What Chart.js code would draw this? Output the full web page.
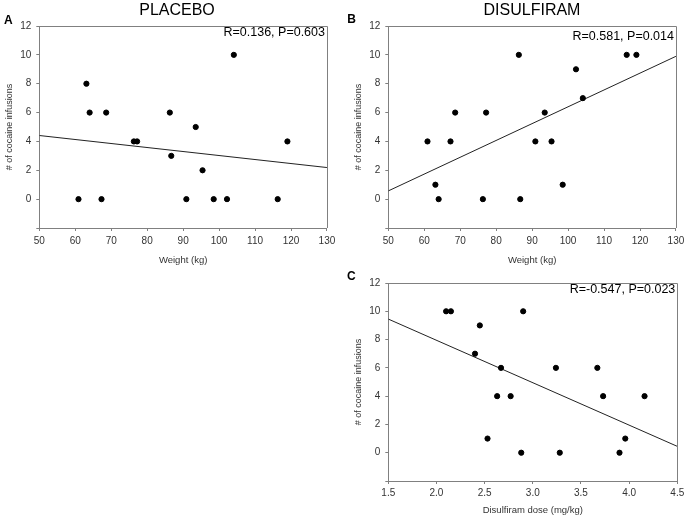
<!DOCTYPE html>
<html>
<head>
<meta charset="utf-8">
<script src="https://cdn.jsdelivr.net/npm/chart.js@4.4.0/dist/chart.umd.min.js"></script>
<style>
body { margin: 0; background: #fff; }
#wrap { position: relative; width: 689px; height: 520px; }
canvas { position: absolute; }
</style>
</head>
<body>
<div id="wrap">
  <canvas id="chartA" width="340" height="272" style="left:0;top:0"></canvas>
  <canvas id="chartB" width="346" height="272" style="left:343px;top:0"></canvas>
  <canvas id="chartC" width="346" height="263" style="left:343px;top:257px"></canvas>
</div>
<script>
// body weight (kg), same subjects in both arms
const weights = [60.9, 63.1, 64.0, 67.3, 68.6, 76.3, 77.2, 86.3, 86.7, 90.9, 93.5, 95.4, 98.5, 102.2, 104.1, 116.3, 119.0];
const placeboInfusions = [0, 8, 6, 0, 6, 4, 4, 6, 3, 0, 5, 2, 0, 0, 10, 0, 4];
const disulfiramInfusions = [4, 1, 0, 4, 6, 0, 6, 10, 0, 4, 6, 4, 1, 9, 7, 10, 10];

// disulfiram dose (mg/kg)
const doses = [2.10, 2.15, 2.40, 2.45, 2.53, 2.63, 2.67, 2.77, 2.88, 2.90, 3.24, 3.28, 3.67, 3.73, 3.90, 3.96, 4.16];
const doseInfusions = [10, 10, 7, 9, 1, 4, 6, 4, 0, 10, 6, 0, 6, 4, 0, 1, 4];

// regression lines (values at both ends of the x axis)
const weightEnds = [50, 130];
const placeboFit = [4.41, 2.19];
const disulfiramFit = [0.57, 9.9];
const doseEnds = [1.5, 4.5];
const doseFit = [9.45, 0.45];

const yTicks = [-2, 12, 2];   // min, max, step
const statsText = ['R=0.136, P=0.603', 'R=0.581, P=0.014', 'R=-0.547, P=0.023'];
const panelTitles = ['PLACEBO', 'DISULFIRAM', ''];
const panelLetters = ['A', 'B', 'C'];

const axisGray = '#808080';
const tickFont = { family: 'Liberation Sans', size: 10 };

function toPoints(xs, ys) {
    return xs.map((x, i) => ({ x: x, y: ys[i] }));
}

// frame on top/right + letter, title, R/P text
const panelDeco = {
    id: 'panelDeco',
    afterDraw(chart, args, o) {
        const ctx = chart.ctx;
        const a = chart.chartArea;
        ctx.save();
        ctx.strokeStyle = axisGray;
        ctx.lineWidth = 1;
        ctx.beginPath();
        ctx.moveTo(Math.round(a.left), Math.round(a.top) + 0.5);
        ctx.lineTo(Math.round(a.right) + 0.5, Math.round(a.top) + 0.5);
        ctx.lineTo(Math.round(a.right) + 0.5, Math.round(a.bottom));
        ctx.stroke();

        ctx.fillStyle = '#000';
        ctx.textBaseline = 'middle';
        ctx.textAlign = 'left';
        ctx.font = 'bold 12px "Liberation Sans"';
        ctx.fillText(o.letter, o.letterX, o.letterY);

        if (o.title) {
            ctx.textAlign = 'center';
            ctx.font = '16px "Liberation Sans"';
            ctx.fillText(o.title, o.titleX, 11);
        }

        ctx.textAlign = 'right';
        ctx.font = '12.5px "Liberation Sans"';
        ctx.fillText(o.stats, a.right - 2, o.statsY);
        ctx.restore();
    }
};

function makePanel(id, p) {
    const ctx = document.getElementById(id).getContext('2d');
    return new Chart(ctx, {
        type: 'scatter',
        data: {
            datasets: [{
                data: toPoints(p.xs, p.ys),
                backgroundColor: '#000',
                borderColor: '#000',
                pointRadius: 2.6,
                pointHoverRadius: 2.6
            }, {
                data: toPoints(p.ends, p.fit),
                showLine: true,
                borderColor: '#222',
                borderWidth: 1,
                pointRadius: 0
            }]
        },
        options: {
            responsive: false,
            animation: false,
            layout: { padding: { top: 26, right: 11.7, left: 0, bottom: 0 } },
            plugins: {
                legend: { display: false },
                tooltip: { enabled: false },
                panelDeco: p.deco
            },
            scales: {
                x: {
                    type: 'linear',
                    min: p.ends[0],
                    max: p.ends[1],
                    afterFit: s => { s.height = p.axisH; },
                    ticks: {
                        stepSize: p.xStep,
                        padding: p.xTickPad,
                        color: '#333',
                        font: tickFont,
                        callback: v => p.xFmt(v)
                    },
                    grid: { display: true, drawOnChartArea: false, drawTicks: true, tickLength: 3, color: axisGray },
                    border: { display: true, color: axisGray },
                    title: {
                        display: true,
                        text: p.xTitle,
                        color: '#333',
                        font: { family: 'Liberation Sans', size: 9.5 },
                        padding: { top: 0, bottom: p.xTitlePad }
                    }
                },
                y: {
                    min: yTicks[0],
                    max: yTicks[1],
                    afterFit: s => { s.width = p.axisW; },
                    ticks: {
                        stepSize: yTicks[2],
                        padding: 5,
                        color: '#333',
                        font: tickFont,
                        callback: v => v < 0 ? '' : v
                    },
                    grid: { display: true, drawOnChartArea: false, drawTicks: true, tickLength: 3, color: axisGray },
                    border: { display: true, color: axisGray },
                    title: {
                        display: true,
                        text: '# of cocaine infusions',
                        color: '#333',
                        font: { family: 'Liberation Sans', size: 9 },
                        padding: { top: p.yTitlePad, bottom: 0 }
                    }
                }
            }
        },
        plugins: [panelDeco]
    });
}

makePanel('chartA', {
    xs: weights, ys: placeboInfusions, ends: weightEnds, fit: placeboFit,
    xStep: 10, xFmt: v => v, xTitle: 'Weight (kg)',
    axisW: 39.3, axisH: 44, xTickPad: 4.7, xTitlePad: 6.3, yTitlePad: 3.9,
    deco: { letter: panelLetters[0], letterX: 4, letterY: 21, title: panelTitles[0], titleX: 177, stats: statsText[0], statsY: 33 }
});

makePanel('chartB', {
    xs: weights, ys: disulfiramInfusions, ends: weightEnds, fit: disulfiramFit,
    xStep: 10, xFmt: v => v, xTitle: 'Weight (kg)',
    axisW: 45.3, axisH: 44, xTickPad: 4.7, xTitlePad: 6.3, yTitlePad: 10.4,
    deco: { letter: panelLetters[1], letterX: 4.3, letterY: 20, title: panelTitles[1], titleX: 189, stats: statsText[1], statsY: 37 }
});

makePanel('chartC', {
    xs: doses, ys: doseInfusions, ends: doseEnds, fit: doseFit,
    xStep: 0.5, xFmt: v => v.toFixed(1), xTitle: 'Disulfiram dose (mg/kg)',
    axisW: 45.3, axisH: 39, xTickPad: 3.2, xTitlePad: 4.3, yTitlePad: 10.6,
    deco: { letter: panelLetters[2], letterX: 4, letterY: 20, title: panelTitles[2], titleX: 189, stats: statsText[2], statsY: 33 }
});
</script>
</body>
</html>
